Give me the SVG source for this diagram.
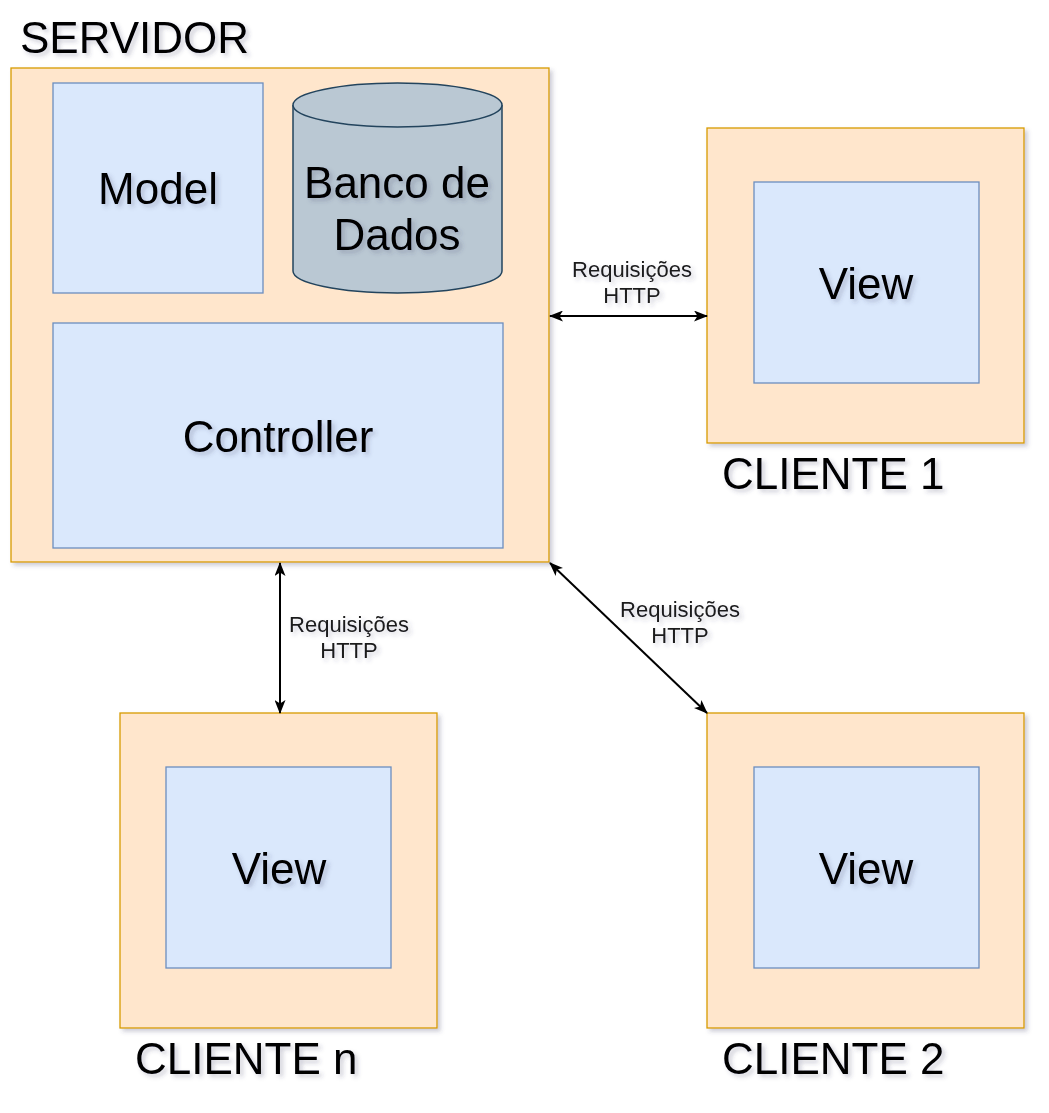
<svg xmlns="http://www.w3.org/2000/svg" width="1049" height="1113" viewBox="0 0 1049 1113">
<defs>
<filter id="sh" x="-10%" y="-10%" width="130%" height="130%">
<feDropShadow dx="3" dy="3" stdDeviation="2" flood-color="#404060" flood-opacity="0.25"/>
</filter>
<marker id="ah" viewBox="0 0 14 11" refX="13" refY="5.5" markerWidth="14" markerHeight="11" markerUnits="userSpaceOnUse" orient="auto-start-reverse">
<path d="M0,0 L14,5.5 L0,11 L3.5,5.5 Z" fill="#000"/>
</marker>
</defs>
<style>
.outer{fill:#ffe6cc;stroke:#d79b00;stroke-width:1.3;filter:url(#sh)}
.inner{fill:#dae8fc;stroke:#6c8ebf;stroke-width:1.3}
.db{fill:#bac8d3;stroke:#23445d;stroke-width:1.5}
.big{font-family:"Liberation Sans",Arial,sans-serif;font-size:44px;fill:#000;filter:url(#sh)}
.c{text-anchor:middle}
.lbl{font-family:"Liberation Sans",Arial,sans-serif;font-size:22px;fill:#1a1a1a;text-anchor:middle;filter:url(#sh)}
.edge{stroke:#000;stroke-width:2;fill:none;marker-start:url(#ah);marker-end:url(#ah)}
</style>
<rect width="1049" height="1113" fill="#fff"/>
<g id="servidor">
<rect class="outer" x="11" y="68" width="538" height="494"/>
<text class="big" x="20" y="53">SERVIDOR</text>
</g>
<g id="model">
<rect class="inner" x="53" y="83" width="210" height="210"/>
<text class="big c" x="158" y="204">Model</text>
</g>
<g id="banco">
<path class="db" d="M293,105 A104.5,22 0 0 1 502,105 L502,271 A104.5,22 0 0 1 293,271 Z"/>
<path class="db" fill="none" d="M293,105 A104.5,22 0 0 0 502,105"/>
<text class="big c" x="397" y="198">Banco de</text>
<text class="big c" x="397" y="250">Dados</text>
</g>
<g id="controller">
<rect class="inner" x="53" y="323" width="450" height="225"/>
<text class="big c" x="278" y="452">Controller</text>
</g>
<g id="cliente1">
<rect class="outer" x="707" y="128" width="317" height="315"/>
<rect class="inner" x="754" y="182" width="225" height="201"/>
<text class="big c" x="866" y="299">View</text>
<text class="big" x="722" y="489">CLIENTE 1</text>
</g>
<g id="clienten">
<rect class="outer" x="120" y="713" width="317" height="315"/>
<rect class="inner" x="166" y="767" width="225" height="201"/>
<text class="big c" x="279" y="884">View</text>
<text class="big" x="135" y="1074">CLIENTE n</text>
</g>
<g id="cliente2">
<rect class="outer" x="707" y="713" width="317" height="315"/>
<rect class="inner" x="754" y="767" width="225" height="201"/>
<text class="big c" x="866" y="884">View</text>
<text class="big" x="722" y="1074">CLIENTE 2</text>
</g>
<g id="connectors">
<line class="edge" x1="550" y1="316" x2="707" y2="316"/>
<line class="edge" x1="280" y1="563" x2="280" y2="713"/>
<line class="edge" x1="550" y1="563" x2="707" y2="713"/>
<text class="lbl" x="632" y="277">Requisições</text>
<text class="lbl" x="632" y="303">HTTP</text>
<text class="lbl" x="349" y="632">Requisições</text>
<text class="lbl" x="349" y="658">HTTP</text>
<text class="lbl" x="680" y="617">Requisições</text>
<text class="lbl" x="680" y="643">HTTP</text>
</g>
</svg>
